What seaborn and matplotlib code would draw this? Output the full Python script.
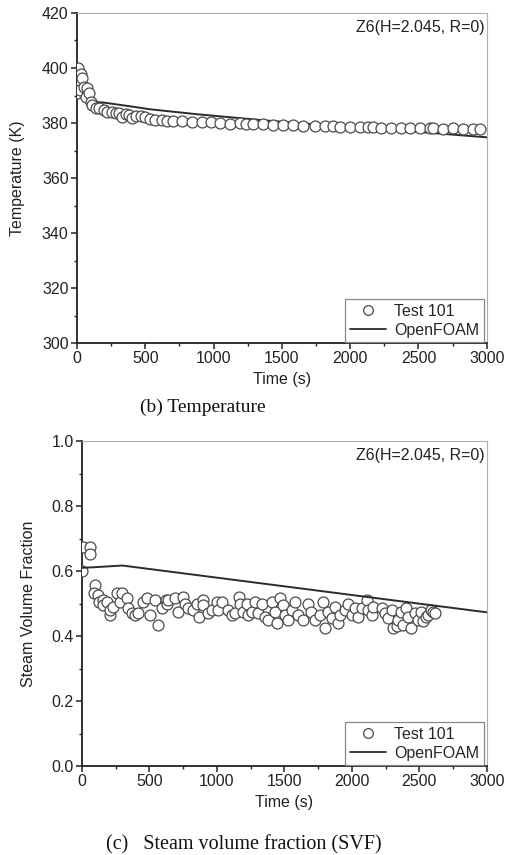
import matplotlib
matplotlib.use("Agg")
import matplotlib.pyplot as plt
from matplotlib.lines import Line2D
from matplotlib.ticker import MultipleLocator
import seaborn as sns
import pandas as pd

# ---------------- data ----------------
temp_time = [0, 7, 15, 21, 27, 39, 51, 63, 75, 88,
             100, 112, 137, 161, 198, 222, 258, 283, 307, 332,
             356, 380, 405, 429, 466, 502, 538, 575, 620, 656,
             700, 766, 839, 912, 985, 1046, 1119, 1192, 1240, 1290,
             1363, 1436, 1509, 1583, 1656, 1741, 1814, 1875, 1924, 1997,
             2070, 2131, 2168, 2229, 2302, 2375, 2436, 2509, 2582, 2607,
             2680, 2753, 2826, 2899, 2948]
temp_test = [391, 400, 395, 392, 398, 396.3, 393.2, 389.6, 392.6, 390.8,
             387.7, 386.5, 385.6, 385.4, 384.7, 384.1, 384.0, 383.8, 383.6, 382.3,
             383.2, 382.8, 381.7, 382.5, 382.7, 382.3, 381.5, 381.2, 381.0, 380.8,
             380.9, 380.7, 380.4, 380.5, 380.3, 380.0, 379.8, 379.9, 379.6, 379.5,
             379.5, 379.3, 379.2, 379.1, 379.0, 378.9, 378.8, 378.8, 378.6, 378.6,
             378.5, 378.4, 378.4, 378.3, 378.3, 378.2, 378.2, 378.2, 378.1, 378.1,
             378.0, 378.1, 378.0, 378.0, 378.0]

foam_temp_time = [0, 30, 60, 95, 150, 200, 400, 534, 877, 1363, 1875, 2363, 3000]
foam_temp = [400, 397, 393, 388.5, 387.6, 387.4, 386, 385, 383.2, 381, 379, 377.3, 374.8]

svf_time = [0, 10, 60, 60, 100, 89, 121, 128, 153, 158, 183, 207, 207, 232, 257, 282, 294,
            331, 343, 368, 393, 417, 449, 479, 504, 541, 565, 590, 622, 630, 640, 689, 713,
            746, 763, 787, 825, 850, 869, 899, 899, 936, 960, 997,
            1010, 1035, 1084, 1109, 1133, 1163, 1170, 1195, 1220, 1232, 1257, 1281, 1306,
            1331, 1355, 1380, 1405, 1430, 1442, 1467, 1491, 1504, 1528, 1553, 1578, 1603,
            1640, 1677, 1701, 1726, 1763, 1788, 1800, 1825, 1850, 1874, 1899, 1911, 1948,
            1973, 1998, 2022, 2047, 2072, 2109, 2121, 2146, 2158, 2220, 2244, 2269, 2294,
            2306, 2331, 2343, 2368, 2380, 2405, 2417, 2442, 2467, 2491, 2516, 2528, 2553,
            2565, 2590, 2602, 2620]
svf_test = [0.60, 0.675, 0.675, 0.652, 0.557, 0.531, 0.526, 0.506, 0.511, 0.495, 0.506,
            0.465, 0.48, 0.49, 0.531, 0.506, 0.531,
            0.516, 0.485, 0.47, 0.465, 0.47, 0.506, 0.516, 0.465, 0.511, 0.434, 0.485, 0.511,
            0.50, 0.51, 0.516, 0.475,
            0.521, 0.50, 0.485, 0.48, 0.50, 0.46, 0.511, 0.495, 0.47, 0.48, 0.506,
            0.48, 0.506, 0.48, 0.465, 0.47, 0.521, 0.50, 0.475, 0.50, 0.465, 0.475, 0.506, 0.47,
            0.50, 0.46, 0.45, 0.506, 0.475, 0.44, 0.516, 0.495, 0.465, 0.45, 0.48, 0.506, 0.465,
            0.45, 0.50, 0.475, 0.45, 0.465, 0.506, 0.425, 0.475, 0.455, 0.49, 0.44, 0.465, 0.48,
            0.50, 0.465, 0.485, 0.46, 0.485, 0.511, 0.48, 0.465, 0.49, 0.485, 0.47, 0.455, 0.48,
            0.425, 0.43, 0.45, 0.475, 0.435, 0.485, 0.46, 0.425, 0.47, 0.45, 0.475, 0.445, 0.46,
            0.465, 0.48, 0.475, 0.47]

foam_svf_time = [0, 100, 300, 3000]
foam_svf = [0.61, 0.612, 0.617, 0.473]

series_labels = ["Test 101", "OpenFOAM"]
annotation = "Z6(H=2.045, R=0)"

# ---------------- style ----------------
sns.set_style("ticks")
plt.rcParams["font.family"] = ["Liberation Sans", "DejaVu Sans"]
plt.rcParams["font.size"] = 11.5

fig = plt.figure(figsize=(5.06, 8.55), dpi=100)
ax1 = fig.add_axes([0.152, 0.5988, 0.810, 0.386])
ax2 = fig.add_axes([0.162, 0.1041, 0.800, 0.380])

marker_kw = dict(marker="o", s=62, facecolor="white", edgecolor="#4a4a4a", linewidth=0.9)
line_color = "#2b2b2b"


def style_axis(ax, ymaj, ymin_, ylim):
    ax.set_xlim(0, 3000)
    ax.set_ylim(*ylim)
    ax.xaxis.set_major_locator(MultipleLocator(500))
    ax.xaxis.set_minor_locator(MultipleLocator(250))
    ax.yaxis.set_major_locator(MultipleLocator(ymaj))
    ax.yaxis.set_minor_locator(MultipleLocator(ymin_))
    for s in ["left", "bottom"]:
        ax.spines[s].set_color("#222222")
        ax.spines[s].set_linewidth(1.3)
    for s in ["top", "right"]:
        ax.spines[s].set_color("#b0b0b0")
        ax.spines[s].set_linewidth(0.8)
    ax.tick_params(which="major", direction="out", length=4, width=1.1,
                   color="#222222", labelsize=11.5, labelcolor="#222222", pad=2)
    ax.tick_params(which="minor", direction="out", length=2.5, width=1.0, color="#222222")
    ax.set_xlabel("Time (s)", fontsize=11.5, color="#222222", labelpad=4)
    ax.text(0.995, 0.955, annotation, transform=ax.transAxes, ha="right", va="center",
            fontsize=11.5, color="#222222")
    handles = [Line2D([], [], marker="o", ls="none", markerfacecolor="white",
                      markeredgecolor="#4a4a4a", markersize=7, markeredgewidth=0.9),
               Line2D([], [], color=line_color, lw=1.3)]
    leg = ax.legend(handles, series_labels, loc="lower right",
                    bbox_to_anchor=(0.994, 0.002), borderaxespad=0, fancybox=False,
                    framealpha=1, edgecolor="#888888", fontsize=11.5,
                    handlelength=2.3, handletextpad=0.5, borderpad=0.3,
                    labelspacing=0.25)
    leg.get_frame().set_linewidth(0.9)


df_t = pd.DataFrame({"t": temp_time, "v": temp_test})
df_tf = pd.DataFrame({"t": foam_temp_time, "v": foam_temp})
sns.lineplot(data=df_tf, x="t", y="v", ax=ax1, color=line_color, lw=1.4, sort=False)
sns.scatterplot(data=df_t, x="t", y="v", ax=ax1, zorder=3, **marker_kw)
style_axis(ax1, 20, 10, (300, 420))
ax1.set_ylabel("Temperature (K)", fontsize=11.5, color="#222222", labelpad=12)

df_s = pd.DataFrame({"t": svf_time, "v": svf_test})
df_sf = pd.DataFrame({"t": foam_svf_time, "v": foam_svf})
sns.scatterplot(data=df_s, x="t", y="v", ax=ax2, zorder=3, **marker_kw)
sns.lineplot(data=df_sf, x="t", y="v", ax=ax2, color=line_color, lw=1.4, sort=False, zorder=4)
style_axis(ax2, 0.2, 0.1, (0, 1.0))
ax2.yaxis.set_major_formatter(matplotlib.ticker.FormatStrFormatter("%.1f"))
ax2.set_ylabel("Steam Volume Fraction", fontsize=11.5, color="#222222", labelpad=11)

serif = ["Liberation Serif", "DejaVu Serif"]
fig.text(0.40, 0.524, "(b) Temperature", ha="center", va="center",
         fontsize=14, family=serif, color="#111111")
fig.text(0.482, 0.012, "(c)   Steam volume fraction (SVF)", ha="center", va="center",
         fontsize=14.5, family=serif, color="#111111")

fig.savefig("out.png", dpi=100)
